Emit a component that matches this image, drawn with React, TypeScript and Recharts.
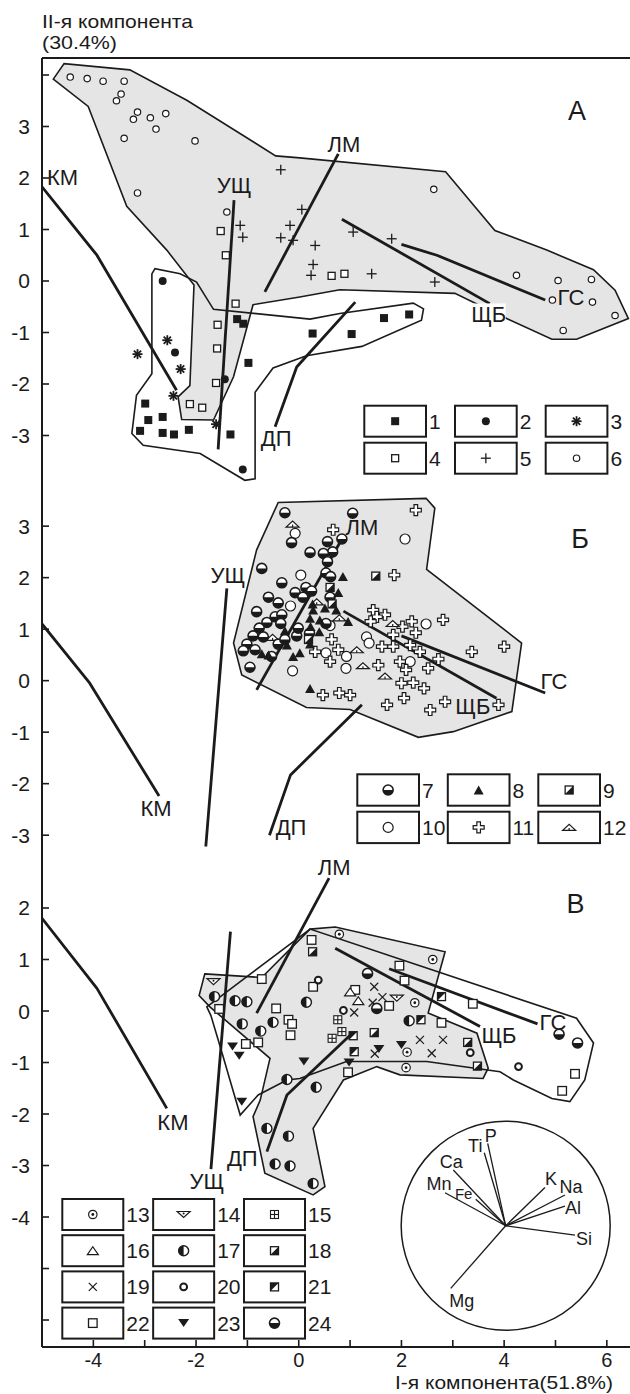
import { ComposedChart, Scatter, XAxis, YAxis, ReferenceLine, ReferenceDot } from "recharts";

type Pt = [number, number];
type Tag = { t: string; x: number; y: number };

const FONT = '"Liberation Sans", Arial, Helvetica, sans-serif';
const INK = "#1b1b1b";
const FILL = "#e5e5e5";

// shared I-component axis
const X_DOMAIN: [number, number] = [-5, 6.451];
const X_TICKS = [-4, -3, -2, -1, 0, 1, 2, 3, 4, 5, 6];
const X_LABELS = [-4, -2, 0, 2, 4, 6];

// ---------- panel А ----------
const A_Y_DOMAIN: [number, number] = [-4, 4.33];
const A_Y_TICKS = [-3, -2, -1, 0, 1, 2, 3, 4];
const A_Y_LABELS = [-3, -2, -1, 0, 1, 2, 3];

const A_GRAY: Pt[] = [
  [-4.78, 3.92], [-4.57, 4.22], [-3.29, 4.1], [-2.18, 3.51], [-0.45, 2.43], [0.02, 2.39], [2.86, 2.12],
  [3.82, 0.98], [4.83, 0.6], [5.74, 0.22], [6.16, -0.18], [6.42, -0.73], [5.41, -1.13], [4.93, -1.13],
  [4.05, -0.73], [3.04, -0.24], [0.8, -0.17], [0.02, -0.31], [-0.89, -0.46], [-1.27, -1.86], [-1.66, -2.7],
  [-2.28, -2.69], [-2.35, -2.25], [-2.12, -2.03], [-2.04, -0.08], [-2.57, 0.6], [-3.35, 1.45], [-4.1, 3.39],
];
const A_WHITE: Pt[] = [
  [-2.86, 0.14], [-2.8, 0.24], [-2.31, 0.14], [-1.99, -0.02], [-1.66, -0.55], [0.22, -0.74], [0.8, -0.63],
  [2.23, -0.43], [2.43, -0.54], [2.39, -0.76], [1.23, -1.27], [0.15, -1.45], [-0.5, -1.69], [-0.85, -2.16],
  [-0.85, -3.84], [-1.05, -3.87], [-1.92, -3.35], [-3.03, -3.19], [-3.25, -2.96], [-3.16, -2.22], [-2.86, -1.8],
];
const A_KM: Pt[] = [[-5, 1.83], [-3.93, 0.5], [-2.38, -2.12]];
const A_USH: Pt[] = [[-1.26, 1.57], [-1.57, -3.27]];
const A_LM: Pt[] = [[0.77, 2.47], [-0.66, -0.21]];
const A_DP: Pt[] = [[-0.46, -2.83], [-0.04, -1.67], [1.1, -0.41]];
const A_SHB: Pt[] = [[0.84, 1.2], [3.72, -0.44]];
const A_GS: Pt[] = [[2.0, 0.71], [2.69, 0.5], [4.8, -0.37]];
const A_TAGS: Tag[] = [
  { t: "КМ", x: -4.6, y: 2.0 }, { t: "УЩ", x: -1.26, y: 1.86 }, { t: "ЛМ", x: 0.88, y: 2.65 },
  { t: "ДП", x: -0.44, y: -3.05 }, { t: "ЩБ", x: 3.7, y: -0.65 }, { t: "ГС", x: 5.3, y: -0.33 },
];
const A_LETTER: Tag = { t: "А", x: 5.42, y: 3.31 };

const S1: Pt[] = [[-1.2, -0.74], [-1.08, -0.83], [0.27, -1.02], [-0.98, -1.59], [-2.99, -2.38], [-2.93, -2.7], [-2.65, -2.64], [-3.09, -2.91], [-2.65, -2.95], [-2.43, -2.98], [-2.14, -2.89], [-1.33, -2.98], [1.03, -1.03], [1.66, -0.72], [2.15, -0.65]];
const S2: Pt[] = [[-2.65, 0.0], [-2.41, -1.39], [-1.44, -1.91], [-1.09, -3.66]];
const S3: Pt[] = [[-3.14, -1.42], [-2.56, -1.15], [-2.3, -1.71], [-2.44, -2.23], [-1.61, -2.78]];
const S4: Pt[] = [[-1.52, 0.97], [-1.42, 0.5], [-1.23, -0.44], [-1.58, -0.85], [-1.59, -1.31], [-1.61, -1.98], [-2.12, -2.39], [-1.88, -2.46], [0.64, 0.1], [0.89, 0.14]];
const S5: Pt[] = [[-0.35, 2.16], [0.06, 1.39], [-1.14, 1.08], [-1.09, 0.85], [-0.17, 1.08], [-0.35, 0.84], [-0.11, 0.79], [0.32, 0.69], [1.06, 0.95], [1.81, 0.82], [0.28, 0.32], [0.24, 0.11], [1.42, 0.14], [2.65, -0.02]];
const S6: Pt[] = [[-4.45, 3.96], [-4.12, 3.93], [-3.81, 3.88], [-3.4, 3.88], [-3.46, 3.63], [-3.55, 3.5], [-3.14, 3.28], [-3.22, 3.14], [-2.89, 3.17], [-2.59, 3.25], [-2.78, 2.95], [-3.4, 2.77], [-2.02, 2.72], [-3.14, 1.71], [-1.4, 1.34], [2.63, 1.78], [4.24, 0.11], [5.05, 0.01], [5.7, 0.03], [4.94, -0.37], [5.72, -0.41], [6.16, -0.67], [5.15, -0.96]];

// ---------- panel Б ----------
const B_Y_DOMAIN: [number, number] = [-3.385, 3.76];
const B_Y_TICKS = [-3, -2, -1, 0, 1, 2, 3];
const B_Y_LABELS = [-3, -2, -1, 0, 1, 2, 3];

const B_GRAY: Pt[] = [
  [-0.4, 3.46], [2.48, 3.54], [2.65, 3.35], [2.49, 2.16], [4.34, 0.73], [4.15, -0.6], [3.01, -0.99],
  [2.33, -1.1], [1.0, -0.56], [0.15, -0.52], [-1.11, 0.11], [-1.27, 0.73], [-0.82, 2.54],
];
const B_KM: Pt[] = [[-5, 1.1], [-4.07, -0.05], [-2.72, -2.24]];
const B_USH: Pt[] = [[-1.4, 1.79], [-1.81, -3.22]];
const B_LM: Pt[] = [[0.84, 2.75], [-0.82, -0.18]];
const B_DP: Pt[] = [[-0.57, -3.0], [-0.16, -1.83], [1.23, -0.47]];
const B_SHB: Pt[] = [[0.87, 1.35], [3.85, -0.34]];
const B_GS: Pt[] = [[2.0, 0.87], [4.8, -0.24]];
const B_TAGS: Tag[] = [
  { t: "КМ", x: -2.78, y: -2.49 }, { t: "УЩ", x: -1.38, y: 2.05 }, { t: "ЛМ", x: 1.23, y: 2.97 },
  { t: "ДП", x: -0.15, y: -2.86 }, { t: "ЩБ", x: 3.39, y: -0.51 }, { t: "ГС", x: 4.97, y: -0.01 },
];
const B_LETTER: Tag = { t: "Б", x: 5.48, y: 2.75 };

const S7: Pt[] = [[-0.27, 3.26], [-0.14, 2.68], [-0.72, 2.18], [-0.33, 1.9], [-0.59, 1.62], [-0.4, 1.51], [-0.07, 1.71], [0.08, 1.62], [0.14, 1.81], [0.25, 1.74], [0.22, 2.49], [-0.82, 1.34], [-0.62, 1.13], [-0.46, 1.24], [-0.33, 1.28], [-0.77, 1.02], [-0.89, 0.87], [-0.69, 0.85], [-1.01, 0.71], [-1.08, 0.58], [-0.85, 0.6], [-0.53, 0.47], [-0.4, 0.71], [-0.27, 0.8], [-0.04, 0.87], [-0.01, 1.02], [-0.95, 0.26], [-0.35, 1.11], [1.05, 3.25], [0.84, 2.75], [0.56, 2.7], [0.66, 2.5], [0.48, 2.47], [0.56, 2.31], [0.53, 2.09], [0.62, 2.02], [0.61, 1.62], [0.53, 1.11], [0.21, 0.92]];
const S8: Pt[] = [[0.27, 1.49], [0.28, 1.37], [0.22, 1.21], [0.23, 1.05], [-0.27, 0.97], [-0.72, 0.52], [-0.59, 0.5], [0.02, 0.54], [-0.11, 0.47], [-0.23, 0.69], [0.22, 0.71], [0.86, 2.02], [0.77, 1.71], [0.51, 1.41], [0.73, 1.37], [0.41, 1.18], [0.96, 1.15], [0.4, 0.95], [0.22, -0.15]];
const S9: Pt[] = [[1.5, 2.03], [0.61, 1.81], [0.65, 1.49], [0.19, 0.8]];
const S10: Pt[] = [[-0.07, 2.86], [0.04, 2.05], [-0.16, 1.45], [-0.12, 0.19], [2.07, 2.75], [2.48, 1.1], [1.32, 0.85], [1.37, 0.73], [0.53, 0.54], [0.93, 0.47], [0.92, 0.24], [2.17, 0.37], [0.61, 1.07]];
const S11: Pt[] = [[2.28, 3.31], [0.67, 2.93], [1.86, 2.05], [1.45, 1.37], [1.68, 1.28], [1.52, 1.24], [1.4, 1.15], [2.2, 1.15], [2.81, 1.18], [2.02, 1.05], [2.28, 0.93], [1.84, 0.89], [0.64, 0.8], [1.62, 0.66], [1.84, 0.66], [2.17, 0.69], [2.36, 0.56], [2.72, 0.42], [0.32, 0.56], [0.77, 0.6], [0.61, 0.37], [1.97, 0.37], [2.09, 0.21], [2.52, 0.24], [1.55, 0.3], [3.37, 0.56], [4.0, 0.66], [2.0, -0.05], [2.23, -0.04], [2.44, -0.15], [0.47, -0.28], [0.79, -0.24], [1.0, -0.28], [1.72, -0.47], [2.05, -0.34], [2.56, -0.57], [2.85, -0.41], [3.89, -0.47]];
const S12: Pt[] = [[-0.12, 3.04], [-0.51, 0.84], [0.35, 1.53], [0.79, 1.22], [1.83, 1.11], [1.13, 0.6], [1.25, 0.29], [1.68, 0.09]];

// ---------- panel В ----------
const C_Y_DOMAIN: [number, number] = [-6.524, 3.029];
const C_Y_TICKS = [-6, -5, -4, -3, -2, -1, 0, 1, 2];
const C_Y_LABELS = [-4, -3, -2, -1, 0, 1, 2];

const C_GRAY: Pt[] = [
  [-1.83, 0.72], [-0.72, 0.65], [0.22, 1.59], [0.71, 1.63], [2.85, 1.15], [2.52, -0.04], [3.47, -0.43],
  [3.69, -1.11], [3.59, -1.31], [1.97, -1.24], [1.52, -1.08], [0.87, -1.34], [0.28, -2.28], [0.51, -3.41],
  [0.28, -3.57], [-0.66, -3.15], [-0.89, -2.05], [-0.75, -1.73], [-0.56, -0.92], [-1.73, 0.08], [-1.94, 0.3],
];
const C_WHITE: Pt[] = [
  [-1.79, 0.08], [0.22, 1.59], [5.41, -0.14], [5.74, -0.62], [5.57, -1.34], [5.28, -1.76], [4.93, -1.7],
  [4.18, -1.34], [3.92, -1.18], [2.49, -0.98], [0.93, -0.98], [0.02, -1.31], [-0.23, -1.34], [-0.79, -1.63],
  [-1.14, -2.02], [-1.34, -1.34], [-1.5, -0.79], [-1.71, -0.09],
];
const C_KM: Pt[] = [[-5, 1.8], [-3.93, 0.44], [-2.57, -1.89]];
const C_USH: Pt[] = [[-1.33, 1.54], [-1.71, -3.07]];
const C_LM: Pt[] = [[0.59, 2.58], [-0.82, -0.04]];
const C_DP: Pt[] = [[-0.62, -2.73], [-0.23, -1.63], [1.0, -0.47]];
const C_SHB: Pt[] = [[0.71, 1.22], [3.53, -0.3]];
const C_GS: Pt[] = [[1.76, 0.82], [4.65, -0.25]];
const C_TAGS: Tag[] = [
  { t: "КМ", x: -2.45, y: -2.16 }, { t: "УЩ", x: -1.79, y: -3.32 }, { t: "ЛМ", x: 0.69, y: 2.78 },
  { t: "ДП", x: -1.1, y: -2.87 }, { t: "ЩБ", x: 3.9, y: -0.47 }, { t: "ГС", x: 4.95, y: -0.23 },
];
const C_LETTER: Tag = { t: "В", x: 5.39, y: 2.08 };

const S13: Pt[] = [[0.79, 1.49], [2.61, 1.0], [2.26, 0.16], [2.11, -0.8], [2.09, -1.1]];
const S14: Pt[] = [[-1.66, 0.57], [1.91, 0.25]];
const S15: Pt[] = [[0.76, -0.17], [0.84, -0.4], [0.65, -0.53]];
const S16: Pt[] = [[1.0, 0.37], [1.16, 0.2]];
const S17: Pt[] = [[-1.64, 0.28], [-1.24, 0.2], [-1.01, 0.18], [-1.1, -0.25], [-0.74, -0.39], [-0.5, -0.22], [0.15, 0.17], [-0.23, -1.33], [0.34, -1.48], [2.15, -0.19], [-0.62, -2.28], [-0.2, -2.43], [-0.46, -2.97], [-0.17, -3.01], [0.28, -3.35]];
const S18: Pt[] = [[0.27, 1.15], [1.47, -0.42], [3.29, -0.61], [3.48, -1.07]];
const S19: Pt[] = [[1.47, 0.47], [1.44, 0.16], [1.63, 0.27], [1.08, -0.03], [2.36, -0.56], [2.81, -0.56], [2.59, -0.82], [1.48, -0.83]];
const S20: Pt[] = [[0.38, 0.6], [0.87, 0.01], [3.34, -0.81], [4.28, -1.08]];
const S21: Pt[] = [[2.78, 0.28], [2.38, -0.17], [1.06, -0.48], [1.08, -0.79]];
const S22: Pt[] = [[-1.55, 0.04], [-0.72, 0.62], [-0.44, 0.05], [-0.2, -0.17], [-0.13, -0.25], [-0.16, -0.47], [-0.79, -0.61], [-1.03, -0.64], [0.25, 1.38], [0.28, 0.47], [1.96, 0.88], [2.06, 0.59], [1.1, 0.41], [1.76, 0.1], [2.78, -0.23], [3.39, 0.14], [0.96, -1.19], [5.38, -1.22], [5.13, -1.55]];
const S23: Pt[] = [[-1.29, -0.69], [-1.16, -0.87], [0.1, -0.98], [1.56, -0.74], [2.0, -0.66], [0.98, -1.0], [-1.11, -1.76]];
const S24: Pt[] = [[1.34, 0.73], [1.52, 0.05], [5.07, -0.45], [5.43, -0.62]];

// loadings inset (unit circle)
const LOAD_NAMES = ["Ti", "P", "Ca", "Mn", "Fe", "K", "Na", "Al", "Si", "Mg"];
const LOAD_X = [-0.205, -0.172, -0.501, -0.581, -0.287, 0.376, 0.567, 0.567, 0.663, -0.526];
const LOAD_Y = [0.699, 0.789, 0.533, 0.316, 0.253, 0.367, 0.294, 0.189, -0.089, -0.599];

// inset placement inside panel В
const INSET_CX = 4.03;
const INSET_CY = -4.17;
const INSET_R_PX = 104.5;
const INSET_RX = 2.035;
const INSET_RY = 2.029;
const LOAD_OFFSET: Record<string, [number, number, number]> = {
  Ti: [-9, -7, 18], P: [3, -7, 18], Ca: [-2, -8, 18], Mn: [-6, -9, 18], Fe: [-12, -6, 15],
  K: [6, -8, 18], Na: [6, -8, 18], Al: [8, 2, 18], Si: [9, 4, 18], Mg: [11, 13, 18],
};

const toPts = (a: Pt[]) => a.map(([x, y]) => ({ x, y }));

function Marker({ kind, cx, cy }: { kind: number; cx: number; cy: number }) {
  const sw = 1.3;
  switch (kind) {
    case 1:
      return <rect x={cx - 4} y={cy - 4} width={8} height={8} fill={INK} />;
    case 2:
      return <circle cx={cx} cy={cy} r={4} fill={INK} />;
    case 3:
      return (
        <g stroke={INK} strokeWidth={1.8}>
          <line x1={cx} y1={cy - 5} x2={cx} y2={cy + 5} />
          <line x1={cx - 5} y1={cy} x2={cx + 5} y2={cy} />
          <line x1={cx - 3.6} y1={cy - 3.6} x2={cx + 3.6} y2={cy + 3.6} />
          <line x1={cx - 3.6} y1={cy + 3.6} x2={cx + 3.6} y2={cy - 3.6} />
        </g>
      );
    case 4:
      return <rect x={cx - 3.5} y={cy - 3.5} width={7} height={7} fill="#fff" stroke={INK} strokeWidth={sw} />;
    case 5:
      return (
        <g stroke={INK} strokeWidth={1.3}>
          <line x1={cx - 5} y1={cy} x2={cx + 5} y2={cy} />
          <line x1={cx} y1={cy - 5} x2={cx} y2={cy + 5} />
        </g>
      );
    case 6:
      return <circle cx={cx} cy={cy} r={3.2} fill="#fff" stroke={INK} strokeWidth={1.2} />;
    case 7:
    case 24:
      return (
        <g>
          <circle cx={cx} cy={cy} r={5} fill="#fff" stroke={INK} strokeWidth={1.6} />
          <path d={`M${cx - 5},${cy} A5,5 0 0 0 ${cx + 5},${cy} Z`} fill={INK} />
        </g>
      );
    case 8:
      return <polygon points={`${cx - 5},${cy + 4.5} ${cx + 5},${cy + 4.5} ${cx},${cy - 4.5}`} fill={INK} />;
    case 9:
    case 18:
      return (
        <g>
          <rect x={cx - 4} y={cy - 4} width={8} height={8} fill="#fff" stroke={INK} strokeWidth={sw} />
          <polygon points={`${cx + 4},${cy - 4} ${cx + 4},${cy + 4} ${cx - 4},${cy + 4}`} fill={INK} />
        </g>
      );
    case 21:
      return (
        <g>
          <rect x={cx - 4} y={cy - 4} width={8} height={8} fill="#fff" stroke={INK} strokeWidth={sw} />
          <polygon points={`${cx - 4},${cy - 4} ${cx + 4},${cy - 4} ${cx - 4},${cy + 4}`} fill={INK} />
        </g>
      );
    case 10:
      return <circle cx={cx} cy={cy} r={5} fill="#fff" stroke={INK} strokeWidth={1.2} />;
    case 11: {
      const a = 1.8, l = 5.5;
      const d = `M${cx - a},${cy - l}H${cx + a}V${cy - a}H${cx + l}V${cy + a}H${cx + a}V${cy + l}H${cx - a}V${cy + a}H${cx - l}V${cy - a}H${cx - a}Z`;
      return <path d={d} fill="#fff" stroke={INK} strokeWidth={1.2} />;
    }
    case 12:
      return (
        <g>
          <polygon points={`${cx - 6.5},${cy + 3} ${cx + 6.5},${cy + 3} ${cx},${cy - 3}`} fill="#fff" stroke={INK} strokeWidth={1.2} />
          <line x1={cx} y1={cy + 0.5} x2={cx} y2={cy + 3} stroke={INK} strokeWidth={1.2} />
        </g>
      );
    case 13:
      return (
        <g>
          <circle cx={cx} cy={cy} r={4.2} fill="#fff" stroke={INK} strokeWidth={1.2} />
          <circle cx={cx} cy={cy} r={1.4} fill={INK} />
        </g>
      );
    case 14:
      return (
        <g>
          <polygon points={`${cx - 6.5},${cy - 3} ${cx + 6.5},${cy - 3} ${cx},${cy + 3}`} fill="#fff" stroke={INK} strokeWidth={1.2} />
          <circle cx={cx} cy={cy - 1} r={1} fill={INK} />
        </g>
      );
    case 15:
      return (
        <g stroke={INK} strokeWidth={1.1}>
          <rect x={cx - 4} y={cy - 4} width={8} height={8} fill="#fff" />
          <line x1={cx - 4} y1={cy} x2={cx + 4} y2={cy} />
          <line x1={cx} y1={cy - 4} x2={cx} y2={cy + 4} />
        </g>
      );
    case 16:
      return <polygon points={`${cx - 5.5},${cy + 4} ${cx + 5.5},${cy + 4} ${cx},${cy - 4}`} fill="#fff" stroke={INK} strokeWidth={1.2} />;
    case 17:
      return (
        <g>
          <circle cx={cx} cy={cy} r={5} fill="#fff" stroke={INK} strokeWidth={1.4} />
          <path d={`M${cx},${cy - 5} A5,5 0 0 0 ${cx},${cy + 5} Z`} fill={INK} />
        </g>
      );
    case 19:
      return (
        <g stroke={INK} strokeWidth={1.2}>
          <line x1={cx - 4} y1={cy - 4} x2={cx + 4} y2={cy + 4} />
          <line x1={cx - 4} y1={cy + 4} x2={cx + 4} y2={cy - 4} />
        </g>
      );
    case 20:
      return <circle cx={cx} cy={cy} r={3.4} fill="#fff" stroke={INK} strokeWidth={2} />;
    case 22:
      return <rect x={cx - 4.3} y={cy - 4.3} width={8.6} height={8.6} fill="#fff" stroke={INK} strokeWidth={sw} />;
    case 23:
      return <polygon points={`${cx - 5.5},${cy - 4} ${cx + 5.5},${cy - 4} ${cx},${cy + 4}`} fill={INK} />;
    default:
      return <g />;
  }
}

const noDot = () => <g />;

const polygonLine = (fill: string) => (p: any) => {
  const d = p.points.map((q: any, i: number) => `${i ? "L" : "M"}${q.x},${q.y}`).join("") + "Z";
  return <path d={d} fill={fill} stroke={INK} strokeWidth={1.6} strokeLinejoin="miter" />;
};

const trendLine = (p: any) => {
  const d = p.points.map((q: any, i: number) => `${i ? "L" : "M"}${q.x},${q.y}`).join("");
  return <path d={d} fill="none" stroke={INK} strokeWidth={2.8} strokeLinejoin="round" />;
};

const tagShape = (size: number, boxed: string | null) => (p: any) => {
  const t = p.payload.t as string;
  return (
    <g>
      {boxed === t && <rect x={p.cx - 17} y={p.cy - 11} width={34} height={21} fill="#fff" />}
      <text x={p.cx} y={p.cy} textAnchor="middle" dominantBaseline="central" fontSize={size} fontFamily={FONT} fill={INK}>
        {t}
      </text>
    </g>
  );
};

const yTick = (labels: number[]) => (p: any) => {
  const v = p.payload.value as number;
  return (
    <g>
      <line x1={p.x} x2={p.x + 7} y1={p.y} y2={p.y} stroke={INK} strokeWidth={1.6} />
      {labels.includes(v) && (
        <text x={p.x - 12} y={p.y} textAnchor="end" dominantBaseline="central" fontSize={21} fontFamily={FONT} fill={INK}>
          {v}
        </text>
      )}
    </g>
  );
};

const xTick = (showLabels: boolean) => (p: any) => {
  const v = p.payload.value as number;
  return (
    <g>
      <line x1={p.x} x2={p.x} y1={p.y} y2={p.y - 7} stroke={INK} strokeWidth={1.6} />
      {showLabels && X_LABELS.includes(v) && (
        <text x={p.x} y={p.y + 13} textAnchor="middle" dominantBaseline="central" fontSize={20} fontFamily={FONT} fill={INK}>
          {v}
        </text>
      )}
    </g>
  );
};

interface PanelProps {
  top: number;
  height: number;
  marginTop: number;
  marginBottom: number;
  xAxisHeight: number;
  showXLabels: boolean;
  yDomain: [number, number];
  yTicks: number[];
  yLabels: number[];
  gray: Pt[];
  white: Pt[] | null;
  trends: Pt[][];
  series: { kind: number; pts: Pt[] }[];
  tags: Tag[];
  letter: Tag;
  boxed: string | null;
  topBorder: boolean;
  extra?: React.ReactNode;
}

function Panel(props: PanelProps) {
  const { yDomain } = props;
  return (
    <div style={{ position: "absolute", left: 0, top: props.top }}>
      <ComposedChart
        width={630}
        height={props.height}
        margin={{ top: props.marginTop, right: 0, bottom: props.marginBottom, left: 0 }}
      >
        <XAxis
          type="number"
          dataKey="x"
          domain={X_DOMAIN}
          allowDataOverflow
          ticks={X_TICKS}
          interval={0}
          tickSize={0}
          tickMargin={0}
          tickLine={false}
          height={props.xAxisHeight}
          axisLine={{ stroke: INK, strokeWidth: 2 }}
          tick={xTick(props.showXLabels)}
        />
        <YAxis
          type="number"
          dataKey="y"
          domain={yDomain}
          allowDataOverflow
          ticks={props.yTicks}
          interval={0}
          tickSize={0}
          tickMargin={0}
          tickLine={false}
          width={42}
          axisLine={{ stroke: INK, strokeWidth: 2 }}
          tick={yTick(props.yLabels)}
        />
        {props.topBorder && <ReferenceLine y={yDomain[1]} stroke={INK} strokeWidth={2} />}
        <Scatter data={toPts(props.gray)} line={polygonLine(FILL)} lineType="joint" shape={noDot} isAnimationActive={false} />
        {props.white && (
          <Scatter data={toPts(props.white)} line={polygonLine("none")} lineType="joint" shape={noDot} isAnimationActive={false} />
        )}
        {props.extra}
        {props.trends.map((tr, i) => (
          <Scatter key={`tr${i}`} data={toPts(tr)} line={trendLine} lineType="joint" shape={noDot} isAnimationActive={false} />
        ))}
        {props.series.map((s) => (
          <Scatter
            key={`s${s.kind}`}
            data={toPts(s.pts)}
            shape={(p: any) => <Marker kind={s.kind} cx={p.cx} cy={p.cy} />}
            isAnimationActive={false}
          />
        ))}
        <Scatter data={props.tags} shape={tagShape(22, props.boxed)} isAnimationActive={false} />
        <Scatter data={[props.letter]} shape={tagShape(27, null)} isAnimationActive={false} />
      </ComposedChart>
    </div>
  );
}

function LegendGrid({ x0, y0, dx, dy, w, h, kinds }: { x0: number; y0: number; dx: number; dy: number; w: number; h: number; kinds: number[] }) {
  return (
    <g>
      {kinds.map((k, i) => {
        const x = x0 + (i % 3) * dx;
        const y = y0 + Math.floor(i / 3) * dy;
        return (
          <g key={k}>
            <rect x={x} y={y} width={w} height={h} fill="#fff" stroke={INK} strokeWidth={2} />
            <Marker kind={k} cx={x + w / 2} cy={y + h / 2} />
            <text x={x + w + 3} y={y + h / 2} dominantBaseline="central" fontSize={21} fontFamily={FONT} fill={INK}>
              {k}
            </text>
          </g>
        );
      })}
    </g>
  );
}

export default function App() {
  const loadEnds = LOAD_NAMES.map((t, i) => ({
    t,
    x: INSET_CX + LOAD_X[i] * INSET_RX,
    y: INSET_CY + LOAD_Y[i] * INSET_RY,
  }));
  const inset = [
    <ReferenceDot key="circ" x={INSET_CX} y={INSET_CY} r={INSET_R_PX} fill="none" stroke={INK} strokeWidth={1.5} />,
    ...loadEnds.map((e) => (
      <ReferenceLine
        key={`v${e.t}`}
        segment={[{ x: INSET_CX, y: INSET_CY }, { x: e.x, y: e.y }]}
        stroke={INK}
        strokeWidth={1.3}
      />
    )),
    <Scatter
      key="loadlabels"
      data={loadEnds}
      isAnimationActive={false}
      shape={(p: any) => {
        const [dx, dy, fs] = LOAD_OFFSET[p.payload.t];
        return (
          <text x={p.cx + dx} y={p.cy + dy} textAnchor="middle" dominantBaseline="central" fontSize={fs} fontFamily={FONT} fill={INK}>
            {p.payload.t}
          </text>
        );
      }}
    />,
  ];

  return (
    <div style={{ position: "absolute", left: 0, top: 0, width: 630, height: 1394, background: "#fff", overflow: "hidden" }}>
      <Panel
        top={0}
        height={490}
        marginTop={58}
        marginBottom={3}
        xAxisHeight={0}
        showXLabels={false}
        yDomain={A_Y_DOMAIN}
        yTicks={A_Y_TICKS}
        yLabels={A_Y_LABELS}
        gray={A_GRAY}
        white={A_WHITE}
        trends={[A_KM, A_USH, A_LM, A_DP, A_SHB, A_GS]}
        series={[
          { kind: 1, pts: S1 }, { kind: 2, pts: S2 }, { kind: 3, pts: S3 },
          { kind: 4, pts: S4 }, { kind: 5, pts: S5 }, { kind: 6, pts: S6 },
        ]}
        tags={A_TAGS}
        letter={A_LETTER}
        boxed="ЩБ"
        topBorder
      />
      <Panel
        top={487}
        height={371}
        marginTop={0}
        marginBottom={3}
        xAxisHeight={0}
        showXLabels={false}
        yDomain={B_Y_DOMAIN}
        yTicks={B_Y_TICKS}
        yLabels={B_Y_LABELS}
        gray={B_GRAY}
        white={null}
        trends={[B_KM, B_USH, B_LM, B_DP, B_SHB, B_GS]}
        series={[
          { kind: 10, pts: S10 }, { kind: 11, pts: S11 }, { kind: 12, pts: S12 },
          { kind: 7, pts: S7 }, { kind: 8, pts: S8 }, { kind: 9, pts: S9 },
        ]}
        tags={B_TAGS}
        letter={B_LETTER}
        boxed={null}
        topBorder={false}
      />
      <Panel
        top={855}
        height={539}
        marginTop={0}
        marginBottom={0}
        xAxisHeight={47}
        showXLabels
        yDomain={C_Y_DOMAIN}
        yTicks={C_Y_TICKS}
        yLabels={C_Y_LABELS}
        gray={C_GRAY}
        white={C_WHITE}
        trends={[C_KM, C_USH, C_LM, C_DP, C_SHB, C_GS]}
        series={[
          { kind: 22, pts: S22 }, { kind: 13, pts: S13 }, { kind: 14, pts: S14 }, { kind: 15, pts: S15 },
          { kind: 16, pts: S16 }, { kind: 17, pts: S17 }, { kind: 18, pts: S18 }, { kind: 19, pts: S19 },
          { kind: 20, pts: S20 }, { kind: 21, pts: S21 }, { kind: 23, pts: S23 }, { kind: 24, pts: S24 },
        ]}
        tags={C_TAGS}
        letter={C_LETTER}
        boxed={null}
        topBorder={false}
        extra={inset}
      />
      <svg width={630} height={1394} style={{ position: "absolute", left: 0, top: 0, pointerEvents: "none" }}>
        <text x={42} y={28} fontSize={19} fontFamily={FONT} fill={INK} textLength={151} lengthAdjust="spacingAndGlyphs">
          II-я компонента
        </text>
        <text x={42} y={49} fontSize={19} fontFamily={FONT} fill={INK} textLength={75} lengthAdjust="spacingAndGlyphs">
          (30.4%)
        </text>
        <text x={395} y={1389} fontSize={18} fontFamily={FONT} fill={INK} textLength={218} lengthAdjust="spacingAndGlyphs">
          I-я компонента(51.8%)
        </text>
        <LegendGrid x0={364.3} y0={405.7} dx={90.7} dy={37} w={61.7} h={31} kinds={[1, 2, 3, 4, 5, 6]} />
        <LegendGrid x0={357.3} y0={774.3} dx={90.5} dy={37.4} w={61.7} h={31.4} kinds={[7, 8, 9, 10, 11, 12]} />
        <LegendGrid x0={62.3} y0={1199} dx={90.85} dy={36.2} w={61} h={31} kinds={[13, 14, 15, 16, 17, 18, 19, 20, 21, 22, 23, 24]} />
      </svg>
    </div>
  );
}
